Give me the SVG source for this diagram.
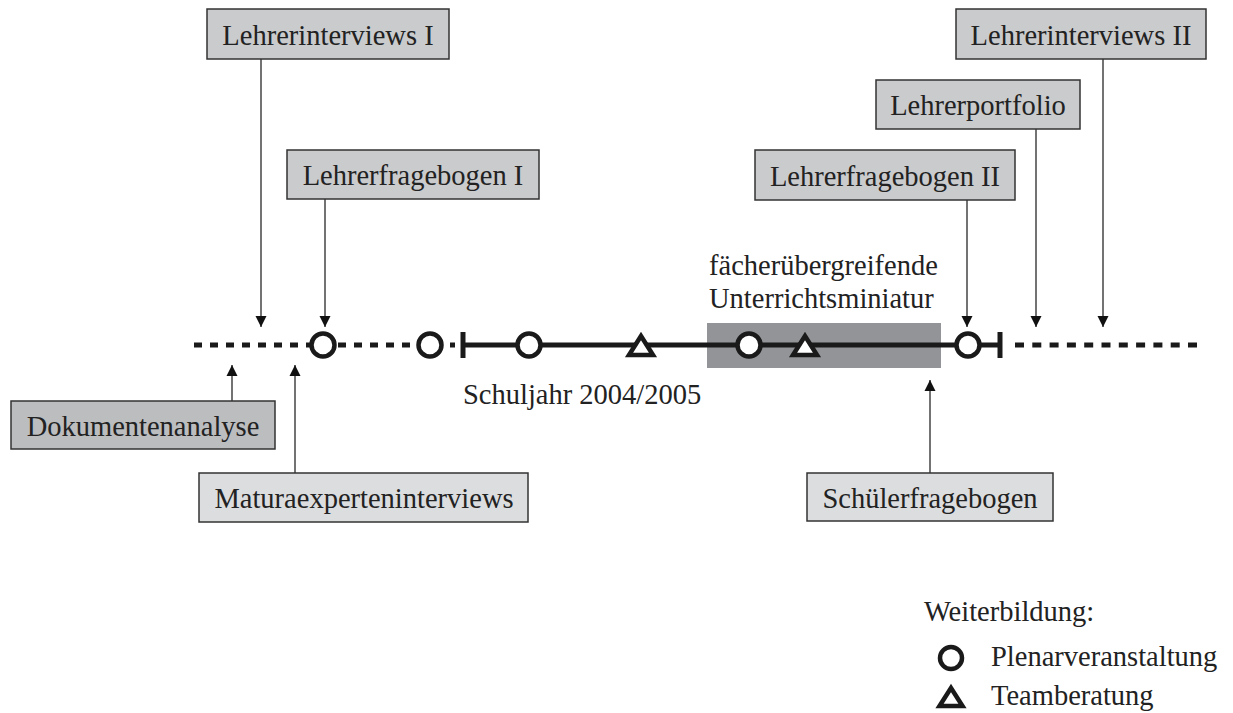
<svg xmlns="http://www.w3.org/2000/svg" width="1233" height="713" viewBox="0 0 1233 713">
<defs>
<marker id="ah" markerUnits="userSpaceOnUse" markerWidth="12" markerHeight="12" refX="11" refY="6" orient="auto">
<path d="M0,0.5 L11,6 L0,11.5 z" fill="#111"/>
</marker>
<style>
text{font-family:"Liberation Serif","Times New Roman",serif;font-size:28.5px;fill:#222}
.box rect{stroke:#333;stroke-width:1.5}
.box text{text-anchor:middle}
.top rect{fill:#cacbcd}
.low rect{fill:#dcdddf}
.conn line{stroke:#444;stroke-width:1.5;marker-end:url(#ah)}
.tl{stroke:#1a1a1a;stroke-width:5;fill:none}
.mk{stroke:#1a1a1a;stroke-width:4.5;fill:#fff}
</style>
</defs>
<rect width="1233" height="713" fill="#fff"/>

<rect x="707" y="323" width="234" height="45" fill="#929497"/>

<g id="timeline">
<line class="tl" x1="194" y1="345" x2="455" y2="345" stroke-dasharray="8 8"/>
<line class="tl" x1="463" y1="345" x2="1000" y2="345"/>
<line class="tl" x1="1015" y1="345" x2="1197" y2="345" stroke-dasharray="9 8.3"/>
<line class="tl" x1="463" y1="332" x2="463" y2="358"/>
<line class="tl" x1="1000" y1="332" x2="1000" y2="358"/>
</g>

<g id="events">
<circle class="mk" cx="323" cy="345" r="11.5"/>
<circle class="mk" cx="430" cy="345" r="11.5"/>
<circle class="mk" cx="529" cy="345" r="11.5"/>
<path class="mk" d="M641,336 L653,355 L629,355 z"/>
<circle class="mk" cx="749" cy="345" r="11.5"/>
<path class="mk" d="M805,336 L817,355 L793,355 z"/>
<circle class="mk" cx="968" cy="345" r="11.5"/>
</g>

<g id="connectors" class="conn">
<line x1="261" y1="59" x2="261" y2="327"/>
<line x1="325" y1="199" x2="325" y2="327"/>
<line x1="967" y1="200" x2="967" y2="327"/>
<line x1="1036" y1="129" x2="1036" y2="327"/>
<line x1="1103" y1="59" x2="1103" y2="327"/>
<line x1="232" y1="401" x2="232" y2="365"/>
<line x1="295" y1="473" x2="295" y2="365"/>
<line x1="930" y1="473" x2="930" y2="380"/>
</g>

<g id="n-lehrerinterviews1" class="box top">
<rect x="207" y="9" width="242" height="50"/>
<text x="328" y="44.5">Lehrerinterviews I</text>
</g>
<g id="n-lehrerfragebogen1" class="box top">
<rect x="287" y="150" width="252" height="49"/>
<text x="413" y="185">Lehrerfragebogen I</text>
</g>
<g id="n-lehrerinterviews2" class="box top">
<rect x="956" y="9" width="250" height="50"/>
<text x="1081" y="44.5">Lehrerinterviews II</text>
</g>
<g id="n-lehrerportfolio" class="box top">
<rect x="876" y="80" width="204" height="49"/>
<text x="978" y="115">Lehrerportfolio</text>
</g>
<g id="n-lehrerfragebogen2" class="box top">
<rect x="755" y="150" width="260" height="50"/>
<text x="885" y="185.5">Lehrerfragebogen II</text>
</g>
<g id="n-dokumentenanalyse" class="box">
<rect x="11" y="401" width="264" height="48" fill="#bcbdbf"/>
<text x="143" y="435.5">Dokumentenanalyse</text>
</g>
<g id="n-maturaexperteninterviews" class="box low">
<rect x="199" y="473" width="329" height="49"/>
<text x="364" y="508">Maturaexperteninterviews</text>
</g>
<g id="n-schuelerfragebogen" class="box low">
<rect x="807" y="473" width="246" height="48"/>
<text x="930" y="508">Schülerfragebogen</text>
</g>

<g id="labels">
<text x="463" y="404">Schuljahr 2004/2005</text>
<text x="709" y="275">fächerübergreifende</text>
<text x="709" y="308">Unterrichtsminiatur</text>
</g>

<g id="legend">
<text x="924" y="621">Weiterbildung:</text>
<circle class="mk" cx="951" cy="658" r="11"/>
<text x="991" y="666">Plenarveranstaltung</text>
<path class="mk" d="M951,688 L962.5,706 L939.5,706 z"/>
<text x="991" y="705">Teamberatung</text>
</g>
</svg>
